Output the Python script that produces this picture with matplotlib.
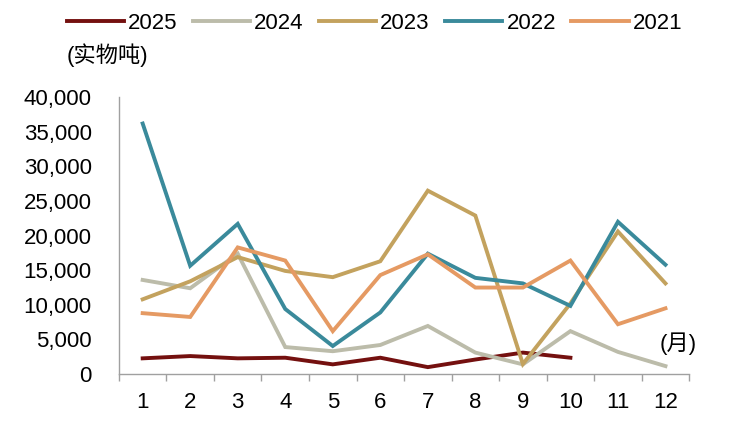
import matplotlib.pyplot as plt
from matplotlib.ticker import FuncFormatter

plt.rcParams['font.family'] = ['Liberation Sans', 'Noto Sans CJK SC', 'DejaVu Sans']

months = list(range(1, 13))
labels = ['2025', '2024', '2023', '2022', '2021']
v2025 = [2270, 2600, 2270, 2360, 1400, 2360, 1000, 2100, 3100, 2360]
v2024 = [13600, 12400, 17400, 3900, 3300, 4200, 6950, 3100, 1400, 6200, 3200, 1150]
v2023 = [10800, 13400, 16900, 14900, 14000, 16300, 26500, 22900, 1450, 10200, 20600, 13100]
v2022 = [36200, 15650, 21700, 9400, 4050, 8900, 17400, 13900, 13100, 9850, 22000, 15800]
v2021 = [8800, 8250, 18300, 16400, 6200, 14300, 17300, 12500, 12500, 16400, 7200, 9500]
colors = ['#74100f', '#bcbcaa', '#c3a25e', '#3a8a9b', '#e59a63']
series = [v2025, v2024, v2023, v2022, v2021]

fig = plt.figure(figsize=(7.34, 4.38), dpi=100)
ax = fig.add_axes([0.162, 0.146, 0.777, 0.632])

lines = []
for lab, vals, col in zip(labels, series, colors):
    ln, = ax.plot(months[:len(vals)], vals, color=col, lw=2.8, label=lab,
                  solid_joinstyle='miter')
    lines.append(ln)

ax.set_xlim(0.5, 12.5)
ax.set_ylim(0, 40000)
ax.set_yticks(range(0, 40001, 5000))
ax.yaxis.set_major_formatter(FuncFormatter(lambda v, p: f'{int(v):,}'))
ax.set_xticks(months)
ax.set_xticks([m + 0.5 for m in range(0, 13)], minor=True)
ax.tick_params(axis='x', which='major', length=0, pad=13, labelsize=16)
ax.tick_params(axis='x', which='minor', length=5, color='#a0a0a0', width=1)
ax.tick_params(axis='y', length=0, pad=19.5, labelsize=16)
for s in ['top', 'right']:
    ax.spines[s].set_visible(False)
for s in ['left', 'bottom']:
    ax.spines[s].set_color('#a0a0a0')
    ax.spines[s].set_linewidth(1)

fig.legend(handles=lines, loc='center left', bbox_to_anchor=(0.091, 0.947),
           ncol=5, frameon=False, fontsize=16, handlelength=2.57,
           handletextpad=0.18, columnspacing=0.7, borderaxespad=0,
           borderpad=0)
fig.text(0.091, 0.874, '(实物吨)', fontsize=16, va='center', ha='left')
ax.text(12.27, 4400, '(月)', fontsize=16, va='center', ha='center')

fig.savefig('out.png', dpi=100)
